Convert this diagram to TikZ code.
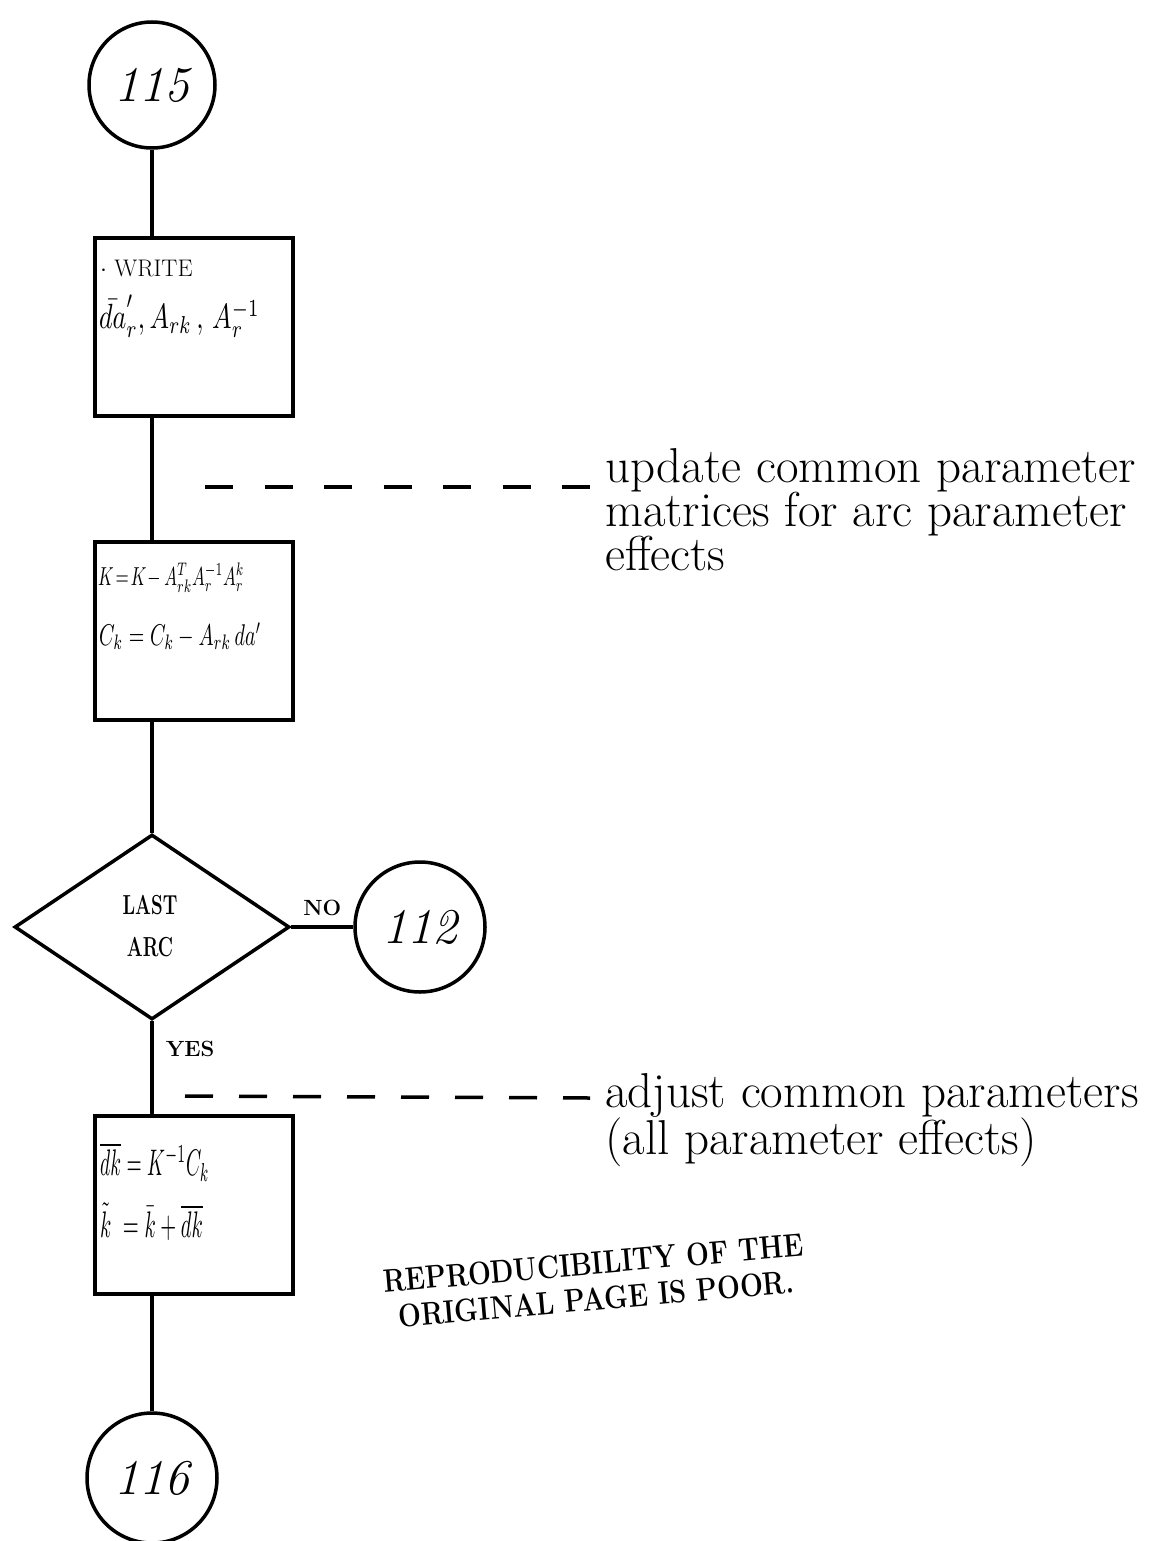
\documentclass[tikz,border=0pt]{standalone}
\usepackage{graphicx}
\usepackage{fontspec}
\usetikzlibrary{shapes.geometric}
\newcommand{\scm}[3]{\scalebox{#1}[#2]{$#3$}}
\tikzset{
  ln/.style={line width=3.5pt},
  conn/.style={circle, draw, ln, inner sep=0pt, font=\fontsize{50}{50}\selectfont\itshape},
  pbox/.style={draw, ln, inner sep=0pt, minimum width=198pt, minimum height=178pt},
  dec/.style={diamond, draw, ln, inner sep=0pt, minimum width=275pt, minimum height=185pt, aspect=1.49},
  dashline/.style={ln, dash pattern=on 28pt off 31.5pt},
  dashlineb/.style={ln, dash pattern=on 28pt off 26pt},
  boxtxt/.style={anchor=west, inner sep=0pt},
  note/.style={anchor=west, inner sep=0pt, align=left, font=\fontsize{49}{44}\selectfont},
  lbl/.style={inner sep=0pt, font=\fontsize{22}{22}\selectfont}
}
\begin{document}
\begin{tikzpicture}[x=1pt,y=-1pt]
\useasboundingbox[fill=white] (0,0) rectangle (1168,1541);
% connectors (circles / boxes / diamond)
\node[conn, minimum size=126pt] (c115) at (152,85) {115};
\node[pbox] (b1) at (194,327) {};
\node[pbox] (b2) at (194,631) {};
\node[dec] (d1) at (152,927) {};
\node[conn, minimum size=130pt] (c112) at (420,927) {112};
\node[pbox] (b3) at (194,1205) {};
\node[conn, minimum size=130pt] (c116) at (152,1478) {116};
% box texts
\node[boxtxt, font=\fontsize{24}{24}\selectfont] (t1a) at (100,268) {$\cdot$ WRITE};
\node[boxtxt] (t1b) at (99,316) {\scm{2.6}{3.5}{\bar{da}'_r,A_{rk}\,,\,A_r^{-1}}};
\node[boxtxt] (t2a) at (98,578) {\scm{1.7}{2.6}{K\!=\!K\!-A_{rk}^T A_r^{-1} A_r^k}};
\node[boxtxt] (t2b) at (99,636) {\scm{2.0}{3.0}{C_k = C_k - A_{rk}\,da'}};
\node[boxtxt] (t3a) at (100,1162) {\scm{1.95}{3.7}{\overline{dk} = K^{-1}C_k}};
\node[boxtxt] (t3b) at (100,1222) {\scm{2.05}{3.7}{\tilde{k}\; = \bar{k} + \overline{dk}}};
% diamond text
\node[lbl] (dt1) at (150,905) {\scalebox{0.85}[1.25]{\bfseries LAST}};
\node[lbl] (dt2) at (150,947) {\scalebox{0.85}[1.25]{\bfseries ARC}};
% flow lines
\draw[ln] (c115.south) -- (c115.south |- b1.north);
\draw[ln] (c115.south |- b1.south) -- (c115.south |- b2.north);
\draw[ln] (c115.south |- b2.south) -- (d1.north);
\draw[ln] (d1.east) -- node[lbl, above=9pt] (no) {\bfseries NO} (c112.west);
\draw[ln] (d1.south) -- node[lbl, pos=0.3, right=12pt] (yes) {\bfseries YES} (d1.south |- b3.north);
\draw[ln] (d1.south |- b3.south) -- (c116.north);
% dashed annotation leaders
\coordinate (da1) at (205,487);
\coordinate (da2) at (590,487);
\draw[dashline] (da1) -- (da2);
\coordinate (db1) at (185,1096);
\coordinate (db2) at (590,1098);
\draw[dashlineb] (db1) -- (db2);
% notes
\node[note] (n1) at (605,510) {update common parameter\\matrices for arc parameter\\effects};
\node[note] (n2) at (605,1120) {adjust common parameters\\(all parameter effects)};
% stamp
\node[inner sep=0pt, rotate=5] (stamp) at (595,1285) {\scalebox{1}[1.2]{\fontsize{27}{30}\selectfont\bfseries\begin{tabular}{@{}c@{}}REPRODUCIBILITY OF THE\\ORIGINAL PAGE IS POOR.\end{tabular}}};
\end{tikzpicture}
\end{document}
